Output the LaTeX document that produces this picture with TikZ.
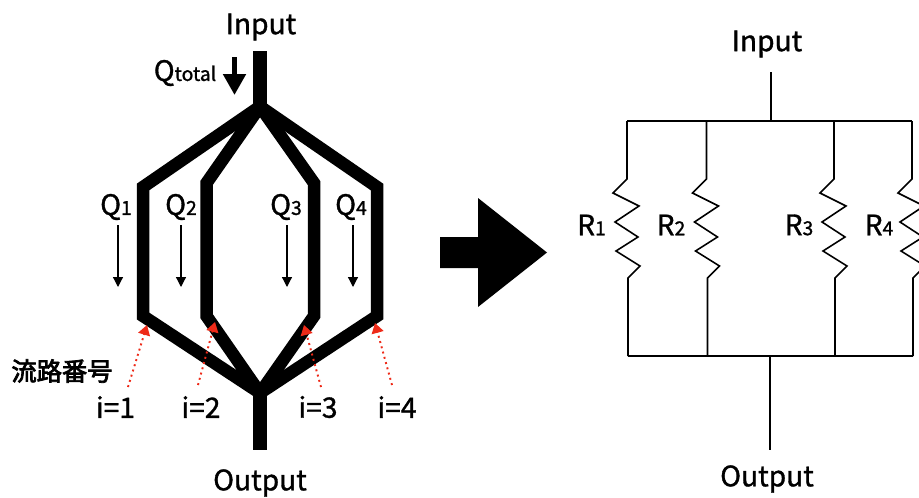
\documentclass[tikz,border=0pt]{standalone}
\usepackage{fontspec}
\setmainfont{Noto Sans CJK JP}[FakeBold=1.2]
\newfontfamily\numfont{Noto Sans CJK JP}[FakeBold=3]
\usetikzlibrary{arrows.meta}
\definecolor{dotred}{RGB}{238,42,24}
\newcommand{\sublabel}[2]{#1{\fontsize{11}{12}\selectfont #2}}

\begin{document}
\begin{tikzpicture}[
    x=0.02cm,y=-0.02cm,
    lbl/.style={font=\fontsize{16}{18}\selectfont,inner sep=0pt},
    channel/.style={line width=0.25cm,line join=miter},
    stem/.style={line width=0.28cm},
    flow/.style={-{Triangle[length=0.2cm,width=0.2cm]},line width=0.7pt},
    bigflow/.style={-{Triangle[length=0.42cm,width=0.44cm]},line width=0.1cm},
    pointer/.style={-{Triangle[length=0.2cm,width=0.24cm]},dotred,line width=1.1pt,dotted},
    wire/.style={line width=0.9pt,line join=miter}
]
\clip (0,0) rectangle (919,497);

% channels
\coordinate (in1) at (260,51);
\coordinate (in2) at (260,110);
\coordinate (split) at (260,106.5);
\coordinate (merge) at (260,393);
\coordinate (out1) at (260,389);
\coordinate (out2) at (260,450);
\foreach \name/\chx/\chtop in {a/143/187,b/206.5/183,c/314/183,d/377/187}{
    \coordinate (\name top) at (\chx,\chtop);
    \coordinate (\name bot) at (\chx,316);
    \draw[channel] (split) -- (\name top) -- (\name bot) -- (merge);
}
\draw[stem] (in1) -- (in2);
\draw[stem] (out1) -- (out2);

% flow labels
\node[lbl] (inL) at (261,27) {Input};
\node[lbl] (outL) at (260,483) {Output};
\node[lbl] (qtot) at (185,73) {\sublabel{Q}{total}};
\coordinate (qa) at (234.5,57);
\coordinate (qb) at (234.5,95);
\draw[bigflow] (qa) -- (qb);
\foreach \i/\qx/\ax in {1/116/118,2/181/181,3/286/287,4/351/353}{
    \node[lbl] (q\i) at (\qx,207) {\sublabel{Q}{\i}};
    \coordinate (qs\i) at (\ax,225);
    \coordinate (qe\i) at (\ax,287);
    \draw[flow] (qs\i) -- (qe\i);
}

% channel numbers
\node[font=\fontsize{14.4}{16}\selectfont\numfont,inner sep=0pt] (num) at (62,371) {流路番号};
\foreach \i/\lx/\sx/\sy/\tx/\ty in {1/115.5/128/387/147/325,2/201/198/385/215/322,3/318/321/387/304/325,4/397/392/385/375/323}{
    \node[lbl] (i\i) at (\lx,407) {i=\i};
    \coordinate (ps\i) at (\sx,\sy);
    \coordinate (pe\i) at (\tx,\ty);
    \draw[pointer] (ps\i) -- (pe\i);
}

% big arrow
\fill (440,237) -- (478,237) -- (478,198) -- (547,252.5) -- (478,307) -- (478,268) -- (440,268) -- cycle;

% circuit
\node[lbl] (cin) at (767,44) {Input};
\node[lbl] (cout) at (767,479) {Output};
\coordinate (t0) at (771,72);
\coordinate (t1) at (771,121);
\coordinate (b1) at (770,356);
\coordinate (b0) at (770,450);
\draw[wire] (t0) -- (t1);
\draw[wire] (b1) -- (b0);
\coordinate (tl) at (627,121);
\coordinate (tr) at (912,121);
\coordinate (bl) at (628,356);
\coordinate (br) at (913,356);
\draw[wire] (tl) -- (tr);
\draw[wire] (bl) -- (br);
\foreach \i/\rx/\tx in {1/627/591.5,2/706.5/671,3/834/799,4/912/879}{
    \node[lbl] (r\i) at (\tx,225) {\sublabel{R}{\i}};
    \coordinate (rt\i) at (\rx,121);
    \coordinate (rb\i) at (\rx+1,356);
    \draw[wire] (rt\i) -- ++(0,58) -- ++(-14,14) -- ++(26,13) -- ++(-24,16) -- ++(23,15) -- ++(-22,14) -- ++(24,15) -- ++(-12,12) -- (rb\i);
}
\end{tikzpicture}
\end{document}
